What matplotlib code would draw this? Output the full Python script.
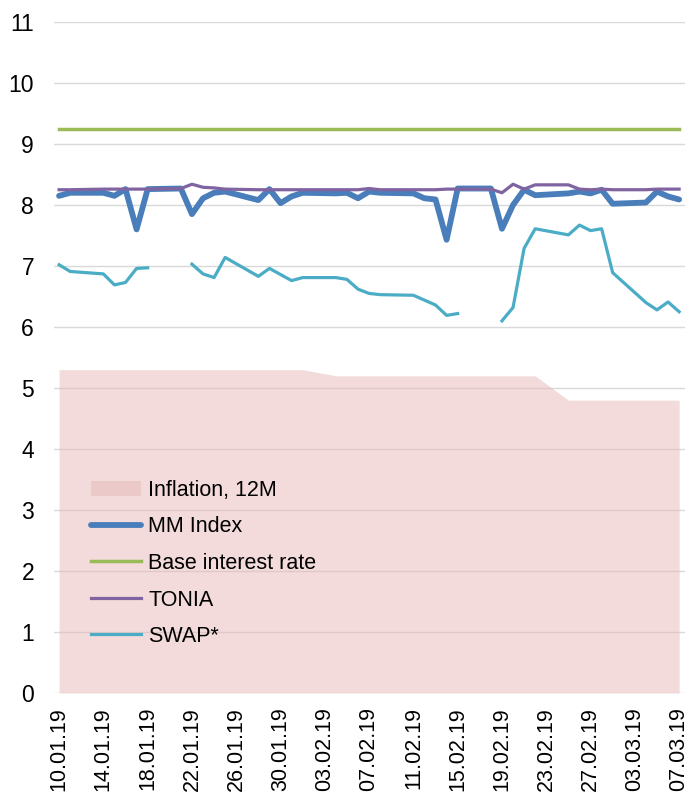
import numpy as np
import pandas as pd
import matplotlib
matplotlib.use("Agg")
import matplotlib.pyplot as plt
import matplotlib.dates as mdates

plt.rcParams['font.family'] = ['Liberation Sans', 'DejaVu Sans']

# business days in the chart
dates = ["10.01.19", "11.01.19", "14.01.19", "15.01.19", "16.01.19", "17.01.19", "18.01.19",
         "21.01.19", "22.01.19", "23.01.19", "24.01.19", "25.01.19", "28.01.19", "29.01.19",
         "30.01.19", "31.01.19", "01.02.19", "04.02.19", "05.02.19", "06.02.19", "07.02.19",
         "08.02.19", "11.02.19", "12.02.19", "13.02.19", "14.02.19", "15.02.19", "18.02.19",
         "19.02.19", "20.02.19", "21.02.19", "22.02.19", "25.02.19", "26.02.19", "27.02.19",
         "28.02.19", "01.03.19", "04.03.19", "05.03.19", "06.03.19", "07.03.19"]

inflation = [5.3] * 17 + [5.2] * 15 + [4.8] * 9

mm_index = [8.15, 8.20, 8.20, 8.15, 8.26, 7.60, 8.26,
            8.27, 7.85, 8.11, 8.20, 8.22, 8.08, 8.26,
            8.03, 8.14, 8.20, 8.19, 8.20, 8.11, 8.22,
            8.20, 8.19, 8.11, 8.09, 7.43, 8.27, 8.27,
            7.61, 8.00, 8.25, 8.16, 8.19, 8.22, 8.19,
            8.25, 8.02, 8.04, 8.22, 8.14, 8.09]

base_rate = [9.25] * 41

tonia = [8.25, 8.25, 8.26, 8.26, 8.26, 8.26, 8.26,
         8.27, 8.34, 8.29, 8.28, 8.26, 8.25, 8.25,
         8.25, 8.25, 8.25, 8.25, 8.25, 8.25, 8.27,
         8.25, 8.25, 8.25, 8.25, 8.26, 8.26, 8.26,
         8.20, 8.34, 8.26, 8.33, 8.33, 8.26, 8.25,
         8.26, 8.25, 8.25, 8.26, 8.26, 8.26]

swap = [7.02, 6.91, 6.87, 6.69, 6.73, 6.96, 6.97,
        np.nan, 7.03, 6.87, 6.81, 7.14, 6.83, 6.96,
        6.86, 6.76, 6.81, 6.81, 6.78, 6.62, 6.55,
        6.53, 6.52, 6.44, 6.36, 6.19, 6.22, np.nan,
        6.10, 6.32, 7.29, 7.61, 7.51, 7.67, 7.58,
        7.61, 6.89, 6.40, 6.28, 6.41, 6.25]

x = pd.to_datetime(dates, format="%d.%m.%y")

fig = plt.figure(figsize=(6.89, 7.96), dpi=100)
ax = fig.add_axes([0.0777, 0.1294, 0.916, 0.843])

ax.fill_between(x, 0, inflation, color="#E6B8B7", alpha=0.5, linewidth=0, zorder=2,
                label="Inflation, 12M")
ax.plot(x, mm_index, color="#4A7EBB", lw=4.2, zorder=3, label="MM Index", solid_capstyle="round")
ax.plot(x, base_rate, color="#9BBB59", lw=2.5, zorder=3, label="Base interest rate")
ax.plot(x, tonia, color="#8064A2", lw=2.3, zorder=4, label="TONIA")
ax.plot(x, swap, color="#4BACC6", lw=2.3, zorder=4, label="SWAP*")

ax.set_ylim(0, 11)
ax.set_yticks(range(0, 12))
ax.set_xlim(x[0] - pd.Timedelta(hours=12), x[-1] + pd.Timedelta(hours=12))
ticks = pd.date_range(x[0], x[-1], freq="4D")
ax.set_xticks(ticks)
ax.xaxis.set_major_formatter(mdates.DateFormatter("%d.%m.%y"))
plt.setp(ax.get_xticklabels(), rotation=90)

ax.grid(axis="y", color="#D9D9D9", lw=1.0, zorder=1)
ax.set_axisbelow(True)
for s in ax.spines.values():
    s.set_visible(False)
ax.tick_params(axis="both", length=0, colors="black")
ax.tick_params(axis="y", pad=14, labelsize=16.5)
ax.tick_params(axis="x", pad=10, labelsize=15.5)

ax.legend(loc="upper left", bbox_to_anchor=(91 / 689, 1 - 480 / 796), bbox_transform=fig.transFigure,
          frameon=False, fontsize=15.5, handlelength=2.3, handletextpad=0.35,
          labelspacing=0.72, borderpad=0, borderaxespad=0)

fig.savefig("out.png", dpi=100)
